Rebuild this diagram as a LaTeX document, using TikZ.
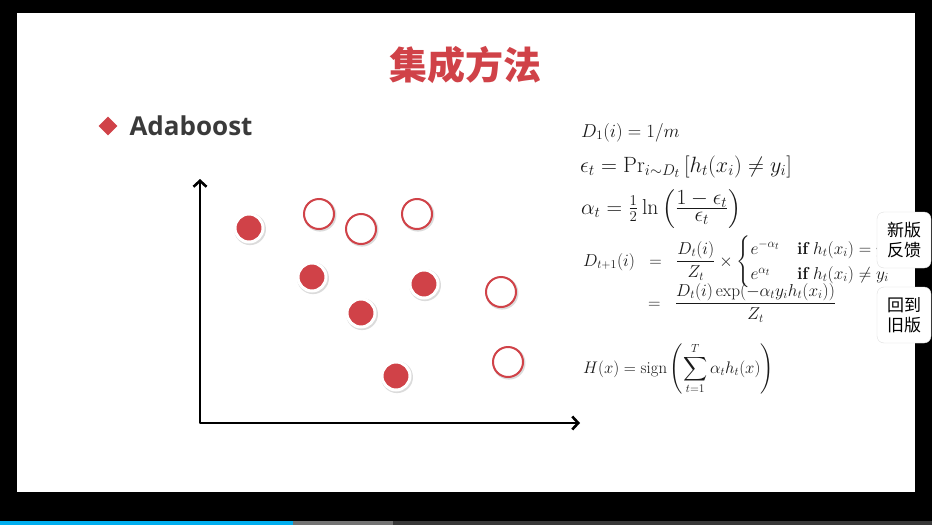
\documentclass[tikz,border=0pt]{standalone}
\usepackage{amsmath,amssymb}
\usepackage{fontspec}
\newfontfamily\cjk{Noto Sans CJK SC}
\newfontfamily\headfont{Open Sans}
\usetikzlibrary{arrows.meta,positioning,shapes.geometric,shadows}
\definecolor{slidered}{RGB}{208,66,72}
\definecolor{headgray}{RGB}{58,58,58}
\definecolor{barblue}{RGB}{0,174,239}
\tikzset{
  formula/.style={font=\fontsize{17.28}{21}\selectfont, text=black!90, inner sep=0pt},
  posdot/.style={circle, fill=slidered, draw=white, line width=3pt, minimum size=28pt, inner sep=0pt,
    drop shadow={opacity=.28, shadow xshift=.9pt, shadow yshift=-1pt, shadow scale=1.14}},
  negdot/.style={circle, fill=white, draw=slidered, line width=2pt, minimum size=30pt, inner sep=0pt,
    drop shadow={opacity=.28, shadow xshift=.9pt, shadow yshift=-1pt, shadow scale=1.1}},
  axis/.style={line width=2.6pt, black, line cap=round, line join=round},
  panelbtn/.style={draw=black!13, fill=white, rounded corners=7pt, minimum width=54pt, minimum height=56pt,
    align=center, inner sep=0pt, font=\cjk\fontsize{17}{20}\selectfont}
}
\begin{document}
\begin{tikzpicture}[x=1pt, y=-1pt]
    % Screen and slide
    \fill[black] (0,0) rectangle (932,525);
    \fill[white] (17,13) rectangle (915,492);
    \fill[barblue] (0,521) rectangle (293,525);
    \fill[black!55] (293,521) rectangle (393,525);
    \fill[black!78] (393,521) rectangle (932,525);

    % Title
    \node[text=slidered, font=\cjk\bfseries\fontsize{38}{40}\selectfont] (title) at (465,65) {集成方法};

    % Bullet
    \node[diamond, fill=slidered, minimum size=19pt, inner sep=0pt] (bullet) at (108,126) {};
    \node[anchor=west, text=headgray, font=\headfont\bfseries\fontsize{26}{30}\selectfont] (ada) at (126,126) {Adaboost};

    % Axes
    \coordinate (origin) at (200,423);
    \coordinate (ytip) at (200,179);
    \coordinate (xtip) at (580,423);
    \draw[axis, {Straight Barb[length=6pt, width=13pt]}-{Straight Barb[length=6pt, width=13pt]}] (ytip) -- (origin) -- (xtip);

    % Samples
    \node[posdot] (p1) at (249,228) {};
    \node[posdot] (p2) at (312,277) {};
    \node[posdot] (p3) at (361,313) {};
    \node[posdot] (p4) at (424,284) {};
    \node[posdot] (p5) at (396,376) {};
    \node[negdot] (n1) at (319,214) {};
    \node[negdot] (n2) at (361,229) {};
    \node[negdot] (n3) at (417,214) {};
    \node[negdot] (n4) at (501,292) {};
    \node[negdot] (n5) at (508,362) {};

    % Formulas
    \node[formula, anchor=base west] (dinit) at (581,137) {\scalebox{1.08}{$D_1(i) = 1/m$}};
    \node[formula, anchor=base west] (eps) at (580,172) {\scalebox{1.28}{$\epsilon_t = \mathrm{Pr}_{i\sim D_t}\left[h_t(x_i) \neq y_i\right]$}};
    \node[formula, anchor=base west] (alpha) at (581,214) {\scalebox{1.25}{$\alpha_t = \frac{1}{2}\ln\,\Bigl(\frac{\textstyle 1-\epsilon_t}{\textstyle \epsilon_t}\Bigr)$}};
    \node[formula, anchor=base west] (dnext) at (583,266) {$D_{t+1}(i)\;\;=\;\;\dfrac{D_t(i)}{Z_t}\times
      \begin{cases} e^{-\alpha_t} & \textbf{if}\; h_t(x_i) = y_i\\ e^{\alpha_t} & \textbf{if}\; h_t(x_i) \neq y_i\end{cases}$};
    \node[formula, anchor=base west] (dnorm) at (648,308) {$=\;\;\dfrac{D_t(i)\exp(-\alpha_t y_i h_t(x_i))}{Z_t}$};
    \node[formula, anchor=base west] (hfinal) at (583,373) {\scalebox{0.97}{$H(x) = \mathrm{sign}\left(\displaystyle\sum_{t=1}^{T}\alpha_t h_t(x)\right)$}};

    % Side buttons
    \node[panelbtn] (feedback) at (904,240) {新版\\反馈};
    \node[panelbtn] (oldver) at (904,315) {回到\\旧版};
\end{tikzpicture}
\end{document}
